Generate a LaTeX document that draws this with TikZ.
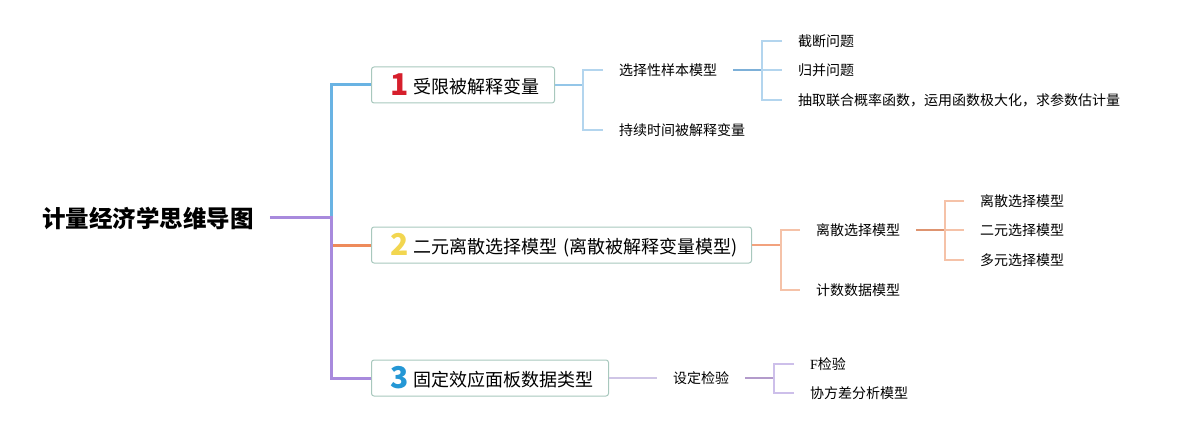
\documentclass[tikz,border=0pt]{standalone}
\usepackage{fontspec}
\setmainfont{Noto Sans CJK SC}
\newfontfamily\Fserif{Liberation Serif}
\usepackage{tikz}

\definecolor{boxline}{HTML}{A8C8BD}
\definecolor{bluemain}{HTML}{69B3E3}
\definecolor{bluesub}{HTML}{94C6E8}
\definecolor{bluebr}{HTML}{B3D5EE}
\definecolor{bluefeed}{HTML}{7DB0D8}
\definecolor{orangemain}{HTML}{EE8B5B}
\definecolor{orangesub}{HTML}{F2A27E}
\definecolor{orangebr}{HTML}{F5C2A8}
\definecolor{orangefeed}{HTML}{DE9470}
\definecolor{purplemain}{HTML}{A88ADD}
\definecolor{purplesub}{HTML}{CFC5E6}
\definecolor{purplebr}{HTML}{CDBFEA}
\definecolor{purplefeed}{HTML}{B39BCB}
\definecolor{numone}{HTML}{D61F2C}
\definecolor{numtwo}{HTML}{F2D650}
\definecolor{numthree}{HTML}{2497D5}

\newcommand{\topicnum}[2]{\raisebox{-2.5pt}{\fontsize{30pt}{30pt}\selectfont\bfseries\color{#1}#2}\hspace{5pt}}

\begin{document}
\begin{tikzpicture}[x=1pt,y=-1pt,
    root/.style={anchor=west,inner xsep=16pt,inner ysep=0pt,font=\fontsize{23.5pt}{26pt}\selectfont\bfseries},
    topic/.style={draw=boxline,line width=1pt,rounded corners=2.5pt,fill=white,anchor=west,
      inner xsep=19pt,inner ysep=0pt,minimum height=36pt,align=left,font=\fontsize{18pt}{20pt}\selectfont},
    leaf/.style={anchor=west,inner xsep=16pt,inner ysep=0pt,font=\fontsize{14pt}{16pt}\selectfont},
    trunk/.style={line width=3pt},
    sub/.style={line width=2pt},
    br/.style={line width=1.6pt}]
      \useasboundingbox (0,0) rectangle (1179,433);
      \node[root] (root) at (26,218) {计量经济学思维导图};
      \coordinate (fork) at (331,218);
      \node[topic,text width=145pt] (t1) at (371,85) {\mbox{\topicnum{numone}{1}受限被解释变量}};
      \node[topic,text width=342pt] (t2) at (371,245) {\mbox{\topicnum{numtwo}{2}二元离散选择模型 (离散被解释变量模型)}};
      \node[topic,text width=199pt] (t3) at (371,378) {\mbox{\topicnum{numthree}{3}固定效应面板数据类型}};
      \draw[bluemain,trunk] (fork) |- (t1.west);
      \draw[orangemain,trunk] (fork |- t2.west) -- (t2.west);
      \draw[purplemain,trunk] (root.east) -- (fork) |- (t3.west);

      \node[leaf] (l11) at (603,70) {选择性样本模型};
      \node[leaf] (l12) at (603,130) {持续时间被解释变量};
      \coordinate (b1) at (583,85);
      \draw[bluesub,sub] (t1.east) -- (b1);
      \draw[bluebr,br] (l11.west) -| (b1) |- (l12.west);
      \node[leaf] (l111) at (782,41) {截断问题};
      \node[leaf] (l112) at (782,70) {归并问题};
      \node[leaf] (l113) at (782,100) {抽取联合概率函数，运用函数极大化，求参数估计量};
      \coordinate (b11) at (762,70);
      \draw[bluefeed,sub] (l11.east) -- (b11);
      \draw[bluebr,br] (l111.west) -| (b11) |- (l113.west);
      \draw[bluebr,br] (b11) -- (l112.west);

      \node[leaf] (l21) at (800,230) {离散选择模型};
      \node[leaf] (l22) at (800,290) {计数数据模型};
      \coordinate (b2) at (781,245);
      \draw[orangesub,sub] (t2.east) -- (b2);
      \draw[orangebr,br] (l21.west) -| (b2) |- (l22.west);
      \node[leaf] (l211) at (964,201) {离散选择模型};
      \node[leaf] (l212) at (964,230) {二元选择模型};
      \node[leaf] (l213) at (964,260) {多元选择模型};
      \coordinate (b21) at (945,230);
      \draw[orangefeed,sub] (l21.east) -- (b21);
      \draw[orangebr,br] (l211.west) -| (b21) |- (l213.west);
      \draw[orangebr,br] (b21) -- (l212.west);

      \node[leaf] (l31) at (657,378) {设定检验};
      \draw[purplesub,sub] (t3.east) -- (l31.west);
      \node[leaf] (l311) at (794,364) {{\Fserif F}检验};
      \node[leaf] (l312) at (794,393) {协方差分析模型};
      \coordinate (b31) at (774,378);
      \draw[purplefeed,sub] (l31.east) -- (b31);
      \draw[purplebr,br] (l311.west) -| (b31) |- (l312.west);
\end{tikzpicture}
\end{document}
